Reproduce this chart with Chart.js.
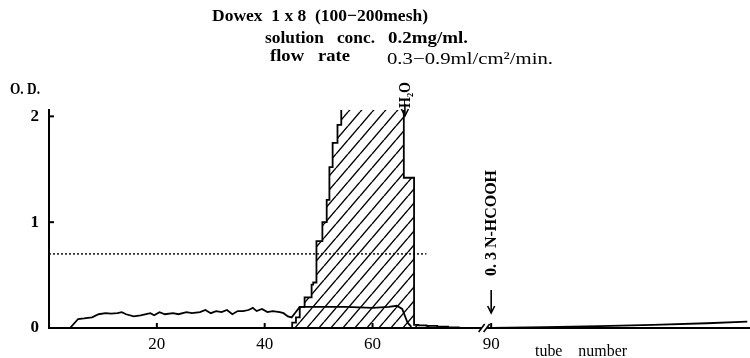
<!DOCTYPE html>
<html>
<head>
<meta charset="utf-8">
<script src="https://cdn.jsdelivr.net/npm/chart.js@4.4.1/dist/chart.umd.min.js"></script>
<style>
  body { margin: 0; background: #fff; }
</style>
</head>
<body>
<canvas id="elutionChart" width="750" height="358"></canvas>
<script>
// tube numbers and O.D.
const lowTube = [0, 3.9, 5.4, 6.5, 7.2, 8, 9.2, 10.5, 11.5, 12.7, 13.5, 14.3, 15.7, 17, 18.8, 19.5, 20.5, 21.5, 23, 24, 25.5, 26.5, 28, 29, 30, 31, 32, 33, 34, 35, 36, 37, 37.8, 38.5, 39.5, 40.5, 41.5, 42.8, 43.5, 44.3, 45, 45.6, 46.5, 47, 50, 55, 60, 63, 64.5, 65.5, 66.5, 67.2];
const lowOD = [0, 0, 0.085, 0.09, 0.095, 0.1, 0.13, 0.14, 0.135, 0.14, 0.15, 0.13, 0.11, 0.12, 0.14, 0.12, 0.15, 0.13, 0.14, 0.13, 0.15, 0.14, 0.15, 0.17, 0.14, 0.16, 0.15, 0.17, 0.13, 0.16, 0.16, 0.17, 0.19, 0.16, 0.18, 0.15, 0.16, 0.15, 0.14, 0.11, 0.1, 0.14, 0.2, 0.2, 0.2, 0.2, 0.19, 0.2, 0.21, 0.18, 0.05, 0.01];

// stepped peak: tube where the reading changes, new reading (2.5 = off scale)
const peakTube = [44.9, 45.1, 45.8, 46.5, 47.4, 48.7, 49.0, 49.6, 50.7, 51.5, 52.0, 52.6, 53.5, 54.2, 65.8, 67.7, 68.5, 70, 72, 74, 76];
const peakOD = [0, 0.05, 0.1, 0.2, 0.29, 0.41, 0.43, 0.82, 1.0, 1.21, 1.52, 1.75, 1.92, 2.5, 1.42, 0.03, 0.025, 0.02, 0.012, 0.006, 0];

// after the axis break
const tailTube = [90, 100, 110, 120, 130, 137.5];
const tailOD = [0, 0.008, 0.018, 0.03, 0.045, 0.06];

const refTube = [0, 70];
const refOD = [0.7, 0.7];

const xTickTubes = [20, 40, 60, 90];
const yTicks = [0, 1, 2];

const h2oTube = 66;
const acidTube = 90;

// axis break: tubes past the break are shifted left
function pos(t) {
    return t < 85 ? t : t - 8;
}

function toPoints(tubes, ods) {
    return tubes.map((t, i) => ({ x: pos(t), y: ods[i] }));
}

// diagonal hatch for the peak area
function makeHatch() {
    const w = 12, h = 14;
    const c = document.createElement('canvas');
    c.width = w;
    c.height = h;
    const g = c.getContext('2d');
    g.strokeStyle = '#000';
    g.lineWidth = 1.4;
    for (let k = 0; k <= 2; k++) {
        g.beginPath();
        g.moveTo((k - 1) * w, h);
        g.lineTo(k * w, 0);
        g.stroke();
    }
    return g.createPattern(c, 'repeat');
}

const serif = "'Liberation Serif', 'DejaVu Serif', serif";

// draw text squeezed/stretched to a given width
function fitText(ctx, text, x, y, width) {
    const m = ctx.measureText(text).width;
    ctx.save();
    ctx.translate(x, y);
    ctx.scale(width / m, 1);
    ctx.fillText(text, 0, 0);
    ctx.restore();
}

function arrowDown(ctx, x, y1, y2) {
    ctx.beginPath();
    ctx.moveTo(x, y1);
    ctx.lineTo(x, y2);
    ctx.stroke();
    ctx.beginPath();
    ctx.moveTo(x - 3.5, y2 - 7);
    ctx.lineTo(x, y2);
    ctx.lineTo(x + 3.5, y2 - 7);
    ctx.stroke();
}

const annotations = {
    id: 'annotations',
    afterDraw(chart) {
        const ctx = chart.ctx;
        const xs = chart.scales.x;
        const ys = chart.scales.y;
        const x0 = ys.getPixelForValue(0);
        ctx.save();
        ctx.fillStyle = '#000';
        ctx.strokeStyle = '#000';
        ctx.textBaseline = 'alphabetic';
        ctx.textAlign = 'left';

        // title block
        ctx.font = 'bold 17px ' + serif;
        fitText(ctx, 'Dowex  1 x 8  (100\u2212200mesh)', 212, 21, 216);
        fitText(ctx, 'solution   conc.', 265, 43, 110);
        fitText(ctx, '0.2mg/ml.', 388, 43, 80);
        fitText(ctx, 'flow   rate', 270, 61, 80);
        ctx.font = '17px ' + serif;
        fitText(ctx, '0.3\u22120.9ml/cm\u00b2/min.', 387, 64, 166);

        ctx.font = 'bold 16px ' + serif;
        fitText(ctx, 'O. D.', 10, 94, 30);
        ctx.font = '17px ' + serif;
        fitText(ctx, 'tube    number', 535, 356, 92);

        // inner tick marks
        ctx.lineWidth = 2;
        yTicks.slice(1).forEach(v => {
            const y = ys.getPixelForValue(v);
            ctx.beginPath();
            ctx.moveTo(xs.left, y);
            ctx.lineTo(xs.left + 5, y);
            ctx.stroke();
        });
        xTickTubes.forEach(t => {
            const x = xs.getPixelForValue(pos(t));
            ctx.beginPath();
            ctx.moveTo(x, x0);
            ctx.lineTo(x, x0 - 5);
            ctx.stroke();
        });

        // axis break marks
        const bx = xs.getPixelForValue(80.7);
        ctx.fillStyle = '#fff';
        ctx.fillRect(bx - 3, x0 - 3, 6, 6);
        ctx.lineWidth = 1.6;
        [-2.5, 2.5].forEach(d => {
            ctx.beginPath();
            ctx.moveTo(bx + d - 3, x0 + 4);
            ctx.lineTo(bx + d + 3, x0 - 4);
            ctx.stroke();
        });
        ctx.fillStyle = '#000';

        // H2O arrow
        const hx = xs.getPixelForValue(pos(h2oTube));
        ctx.lineWidth = 1.6;
        arrowDown(ctx, hx, 104, 116);
        ctx.font = 'bold 16px ' + serif;
        ctx.save();
        ctx.translate(hx + 5, 108);
        ctx.rotate(-Math.PI / 2);
        fitText(ctx, 'H\u2082O', 0, 0, 26);
        ctx.restore();

        // formic acid arrow
        const ax = xs.getPixelForValue(pos(acidTube));
        arrowDown(ctx, ax, 290, 313);
        ctx.font = 'bold 16px ' + serif;
        ctx.save();
        ctx.translate(ax + 5, 276);
        ctx.rotate(-Math.PI / 2);
        fitText(ctx, '0. 3 N-HCOOH', 0, 0, 106);
        ctx.restore();

        ctx.restore();
    }
};

const ctx = document.getElementById('elutionChart').getContext('2d');
const elutionChart = new Chart(ctx, {
    type: 'line',
    data: {
        datasets: [{
            label: 'peak',
            data: toPoints(peakTube, peakOD),
            stepped: 'before',
            borderColor: '#000',
            borderWidth: 1.8,
            backgroundColor: makeHatch(),
            fill: 'origin',
            pointRadius: 0
        }, {
            label: 'low',
            data: toPoints(lowTube, lowOD),
            borderColor: '#000',
            borderWidth: 1.8,
            fill: false,
            tension: 0,
            pointRadius: 0
        }, {
            label: 'tail',
            data: toPoints(tailTube, tailOD),
            borderColor: '#000',
            borderWidth: 1.8,
            fill: false,
            pointRadius: 0
        }, {
            label: 'reference',
            data: toPoints(refTube, refOD),
            borderColor: '#000',
            borderWidth: 1.4,
            borderDash: [2, 2],
            fill: false,
            pointRadius: 0
        }]
    },
    options: {
        responsive: false,
        animation: false,
        layout: {
            padding: { top: 110, right: 0, bottom: 0, left: 0 }
        },
        plugins: {
            legend: { display: false },
            tooltip: { enabled: false },
            title: { display: false }
        },
        scales: {
            x: {
                type: 'linear',
                min: 0,
                max: 130,
                grid: { display: false, drawTicks: false },
                border: { display: true, color: '#000', width: 2 },
                afterBuildTicks: scale => {
                    scale.ticks = xTickTubes.map(t => ({ value: pos(t) }));
                },
                afterFit: scale => { scale.height = 30; },
                ticks: {
                    color: '#000',
                    padding: 6,
                    font: { family: serif, size: 17 },
                    callback: function (value) {
                        const i = xTickTubes.findIndex(t => pos(t) === value);
                        return i >= 0 ? String(xTickTubes[i]) : '';
                    }
                }
            },
            y: {
                min: 0,
                max: 2.06,
                grid: { display: false, drawTicks: false },
                border: { display: true, color: '#000', width: 2 },
                afterBuildTicks: scale => {
                    scale.ticks = yTicks.map(v => ({ value: v }));
                },
                afterFit: scale => { scale.width = 49; },
                ticks: {
                    color: '#000',
                    padding: 10,
                    font: { family: serif, size: 17, weight: 'bold' },
                    callback: v => String(v)
                }
            }
        }
    },
    plugins: [annotations]
});
</script>
</body>
</html>
